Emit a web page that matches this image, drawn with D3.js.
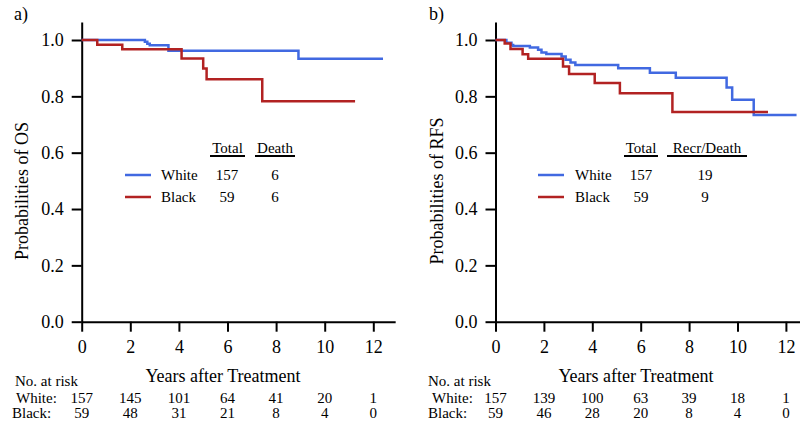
<!DOCTYPE html>
<html><head><meta charset="utf-8">
<script src="https://cdn.jsdelivr.net/npm/d3@7"></script>
<style>body{margin:0;background:#fff}svg{display:block}text{font-family:"Liberation Serif","DejaVu Serif",serif;fill:#000}</style>
</head><body><svg id="c" width="800" height="435"></svg>
<script>
// ---- data ----
const groups = ["White", "Black"];
const groupColors = ["#4169E1", "#B22222"];
const xTicks = [0, 2, 4, 6, 8, 10, 12];
const yTicks = [0, 0.2, 0.4, 0.6, 0.8, 1.0];

// Panel a: overall survival (step times, survival after step, end of follow-up)
const osWhiteTime = [0, 2.6, 2.7, 2.8, 3.57, 8.92];
const osWhiteSurv = [1, 0.994, 0.987, 0.981, 0.962, 0.933];
const osWhiteEnd = 12.4;
const osBlackTime = [0, 0.64, 1.67, 4.11, 5.0, 5.14, 7.43];
const osBlackSurv = [1, 0.983, 0.967, 0.934, 0.899, 0.861, 0.783];
const osBlackEnd = 11.25;

// Panel b: recurrence-free survival
const rfsWhiteTime = [0, 0.45, 0.66, 0.73, 1.42, 1.76, 1.9, 2.1, 2.73, 2.9, 3.1, 3.3, 5.07, 6.38, 7.45, 9.55, 9.78, 10.67];
const rfsWhiteSurv = [1, 0.99, 0.982, 0.979, 0.973, 0.965, 0.956, 0.95, 0.941, 0.93, 0.92, 0.911, 0.9, 0.884, 0.866, 0.831, 0.788, 0.734];
const rfsWhiteEnd = 12.44;
const rfsBlackTime = [0, 0.38, 0.62, 1.12, 1.35, 2.79, 3.04, 4.1, 5.14, 7.31];
const rfsBlackSurv = [1, 0.988, 0.968, 0.949, 0.933, 0.906, 0.879, 0.847, 0.811, 0.744];
const rfsBlackEnd = 11.26;

// legends / tables
const osTotals = [157, 59];
const osEvents = [6, 6];
const rfsTotals = [157, 59];
const rfsEvents = [19, 9];
const osRiskWhite = [157, 145, 101, 64, 41, 20, 1];
const osRiskBlack = [59, 48, 31, 21, 8, 4, 0];
const rfsRiskWhite = [157, 139, 100, 63, 39, 18, 1];
const rfsRiskBlack = [59, 46, 28, 20, 8, 4, 0];

const panels = [
  {label: "a)", ylab: "Probabilities of OS", eventLab: "Death",
   series: [[osWhiteTime, osWhiteSurv, osWhiteEnd], [osBlackTime, osBlackSurv, osBlackEnd]],
   totals: osTotals, events: osEvents, risk: [osRiskWhite, osRiskBlack],
   x0: 81.7, pxPerYear: 24.3, labX: 14, ylabX: 22,
   leg: {lineX: 125, textX: 161, totX: 227, evX: 275, totU: [210, 245], evU: [255, 295]},
   noRiskX: 15, rowLabX: [16, 12], titleX: 223},
  {label: "b)", ylab: "Probabilities of RFS", eventLab: "Recr/Death",
   series: [[rfsWhiteTime, rfsWhiteSurv, rfsWhiteEnd], [rfsBlackTime, rfsBlackSurv, rfsBlackEnd]],
   totals: rfsTotals, events: rfsEvents, risk: [rfsRiskWhite, rfsRiskBlack],
   x0: 495.5, pxPerYear: 24.2, labX: 429, ylabX: 437,
   leg: {lineX: 538, textX: 575, totX: 641, evX: 705, totU: [624, 658], evU: [667, 747]},
   noRiskX: 428, rowLabX: [432, 428], titleX: 636}
];

const svg = d3.select("#c");
const yTop = 22, yZero = 321.7, yOne = 40;
const yMax = 1 + (yOne - yTop) / (yZero - yOne);

panels.forEach(p => {
  const g = svg.append("g");
  const x = d3.scaleLinear().domain([0, 12.9]).range([p.x0, p.x0 + 12.9 * p.pxPerYear]);
  const y = d3.scaleLinear().domain([0, yMax]).range([yZero, yTop]);

  // axes
  const ya = g.append("g").attr("transform", `translate(${p.x0},0)`)
    .call(d3.axisLeft(y).tickValues(yTicks).tickFormat(d3.format(".1f")).tickSize(10).tickSizeOuter(0).tickPadding(8));
  const xa = g.append("g").attr("transform", `translate(0,${yZero})`)
    .call(d3.axisBottom(x).tickValues(xTicks).tickSize(10).tickSizeOuter(0).tickPadding(9));
  [ya, xa].forEach(a => {
    a.selectAll("path.domain").attr("stroke", "#000").attr("stroke-width", 2);
    a.selectAll(".tick line").attr("stroke", "#000").attr("stroke-width", 2);
    a.selectAll(".tick text").style("font-family", '"Liberation Serif",serif').style("font-size", "18px").attr("fill", "#000");
  });

  // curves
  const line = d3.line().x(d => x(d[0])).y(d => y(d[1])).curve(d3.curveStepAfter);
  p.series.forEach((s, i) => {
    const [t, v, end] = s;
    const pts = t.map((tt, k) => [tt, v[k]]);
    pts.push([end, v[v.length - 1]]);
    g.append("path").datum(pts).attr("d", line).attr("fill", "none")
      .attr("stroke", groupColors[i]).attr("stroke-width", 2.5);
  });

  // panel label
  g.append("text").attr("x", p.labX).attr("y", 20).style("font-size", "18px").text(p.label);
  // y label
  g.append("text").attr("transform", `translate(${p.ylabX + 6},191) rotate(-90)`)
    .attr("text-anchor", "middle").style("font-size", "18px").text(p.ylab);

  // legend
  const L = p.leg;
  g.append("text").attr("x", (L.totU[0] + L.totU[1]) / 2).attr("y", 153).attr("text-anchor", "middle").style("font-size", "15px").text("Total");
  g.append("text").attr("x", (L.evU[0] + L.evU[1]) / 2).attr("y", 153).attr("text-anchor", "middle").style("font-size", "15px").text(p.eventLab);
  [L.totU, L.evU].forEach(u => g.append("line").attr("x1", u[0]).attr("x2", u[1]).attr("y1", 156).attr("y2", 156).attr("stroke", "#000").attr("stroke-width", 2));
  const rowY = [175, 197];
  groups.forEach((gr, i) => {
    g.append("line").attr("x1", L.lineX).attr("x2", L.lineX + 26).attr("y1", rowY[i]).attr("y2", rowY[i]).attr("stroke", groupColors[i]).attr("stroke-width", 2.5);
    g.append("text").attr("x", L.textX).attr("y", rowY[i] + 5).style("font-size", "15px").text(gr);
    g.append("text").attr("x", L.totX).attr("y", rowY[i] + 5).attr("text-anchor", "middle").style("font-size", "15px").text(p.totals[i]);
    g.append("text").attr("x", L.evX).attr("y", rowY[i] + 5).attr("text-anchor", "middle").style("font-size", "15px").text(p.events[i]);
  });

  // x title and risk table
  g.append("text").attr("x", p.titleX).attr("y", 382).attr("text-anchor", "middle").style("font-size", "18px").text("Years after Treatment");
  g.append("text").attr("x", p.noRiskX).attr("y", 386).style("font-size", "15px").text("No. at risk");
  const riskY = [403, 418];
  groups.forEach((gr, i) => {
    g.append("text").attr("x", p.rowLabX[i]).attr("y", riskY[i]).style("font-size", "15px").text(gr + ":");
    p.risk[i].forEach((n, k) => {
      g.append("text").attr("x", x(xTicks[k])).attr("y", riskY[i]).attr("text-anchor", "middle").style("font-size", "15px").text(n);
    });
  });
});
</script></body></html>
